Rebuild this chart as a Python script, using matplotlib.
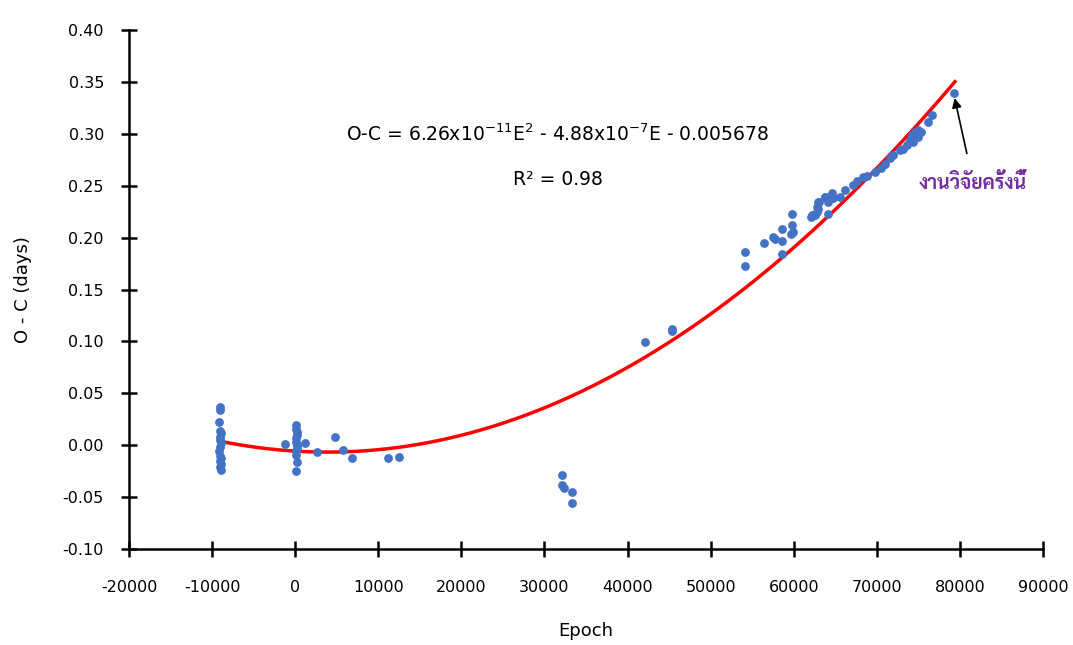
import numpy as np
import matplotlib
matplotlib.use("Agg")
import matplotlib.pyplot as plt

# O-C data (epoch, days)
epoch_a = [-9100, -9050, -9150, -9000, -8950, -9100, -9000, -8900, -9050, -9150,
           -9000, -8950, -9100, -8950, -9000, -8900]
oc_a = [0.037, 0.034, 0.022, 0.014, 0.012, 0.008, 0.005, 0.002, -0.002, -0.006,
        -0.010, -0.012, -0.015, -0.018, -0.021, -0.024]

epoch_b = [150, 100, 200, 250, 100, 150, 200, 250, 150, 100, 200, 150,
           1200, -1230, 2590, 4790, 5790, 6800, 11200, 12500]
oc_b = [0.0195, 0.016, 0.013, 0.010, 0.007, 0.003, 0.000, -0.003, -0.006, -0.009,
        -0.016, -0.025, 0.002, 0.001, -0.007, 0.0076, -0.005, -0.012, -0.012, -0.011]

epoch_c = [32150, 32070, 32390, 33280, 33280]
oc_c = [-0.0287, -0.0383, -0.0415, -0.0448, -0.056]

epoch_d = [42100, 45390, 45390, 54130, 54130, 56420, 57540, 57740, 58620, 58620,
           58620, 59830, 59830, 59950, 59630, 62040, 62560, 62960, 63040, 62760,
           63760, 64160, 64160, 64760, 65570, 62160, 62760, 62960, 63760, 64570,
           66170, 67170, 67620, 68370, 68780, 69780, 70490, 70980, 71580, 71980,
           72790, 73180, 73620, 73990, 74190, 74340, 74590, 74990, 74990, 75300,
           76190, 76600]
oc_d = [0.099, 0.1117, 0.110, 0.186, 0.1726, 0.195, 0.201, 0.1986, 0.208, 0.197,
        0.184, 0.2227, 0.212, 0.2057, 0.2035, 0.2196, 0.2218, 0.228, 0.2346, 0.225,
        0.239, 0.2346, 0.2227, 0.2379, 0.2394, 0.2218, 0.2298, 0.2346, 0.2394, 0.2427,
        0.2459, 0.2507, 0.2545, 0.258, 0.2593, 0.2635, 0.267, 0.2709, 0.2764, 0.2796,
        0.2844, 0.285, 0.2892, 0.294, 0.2988, 0.2918, 0.302, 0.3037, 0.297, 0.3016,
        0.3117, 0.318]

# this work
epoch_new = [79290]
oc_new = [0.339]

# quadratic fit shown on the chart
fit_a, fit_b, fit_c = 6.26e-11, -4.88e-7, -0.005678
fit_range = (-9000, 79400)

epoch = epoch_a + epoch_b + epoch_c + epoch_d + epoch_new
oc = oc_a + oc_b + oc_c + oc_d + oc_new

plt.rcParams['font.family'] = ['DejaVu Sans']
plt.rcParams['axes.unicode_minus'] = False

fig = plt.figure(figsize=(10.73, 6.45), dpi=100)
ax = fig.add_axes([0.1202, 0.1488, 0.8519, 0.8047])

ax.scatter(epoch, oc, s=40, color='#4472C4', zorder=3, linewidths=0)

E = np.linspace(fit_range[0], fit_range[1], 300)
ax.plot(E, fit_a * E**2 + fit_b * E + fit_c, color='#FF0000', lw=2.5, zorder=2)

ax.set_xlim(-20000, 90000)
ax.set_ylim(-0.10, 0.40)
ax.set_xticks(np.arange(-20000, 90001, 10000))
ax.set_yticks(np.arange(-0.10, 0.401, 0.05))
ax.set_yticklabels(['%.2f' % v for v in np.arange(-0.10, 0.401, 0.05)])

for s in ['top', 'right']:
    ax.spines[s].set_visible(False)
for s in ['left', 'bottom']:
    ax.spines[s].set_linewidth(1.8)
    ax.spines[s].set_color('black')
ax.tick_params(direction='inout', length=12, width=1.8, labelsize=11.5)
ax.tick_params(axis='y', pad=12)
ax.tick_params(axis='x', pad=16)

ax.set_xlabel('Epoch', fontsize=13, labelpad=20)
ax.set_ylabel('O - C (days)', fontsize=13, labelpad=22)

ax.text(0.469, 0.80, r'O-C = 6.26x10$^{\mathregular{-11}}$E$^{\mathregular{2}}$ - 4.88x10$^{\mathregular{-7}}$E - 0.005678',
        transform=ax.transAxes, ha='center', va='center', fontsize=13.5)
ax.text(0.469, 0.711, 'R² = 0.98', transform=ax.transAxes, ha='center', va='center', fontsize=13.5)

ax.annotate('งานวิจัยครั้งนี้', xy=(79290, 0.337), xytext=(81600, 0.253),
            ha='center', va='center', fontsize=14, fontweight='bold', color='#7030A0',
            family=['Sarabun', 'Noto Sans Thai Looped', 'Noto Sans Thai', 'DejaVu Sans'],
            arrowprops=dict(arrowstyle='-|>', color='black', lw=1.2,
                            shrinkA=12, shrinkB=2, mutation_scale=14))

fig.savefig('out.png', dpi=100)
